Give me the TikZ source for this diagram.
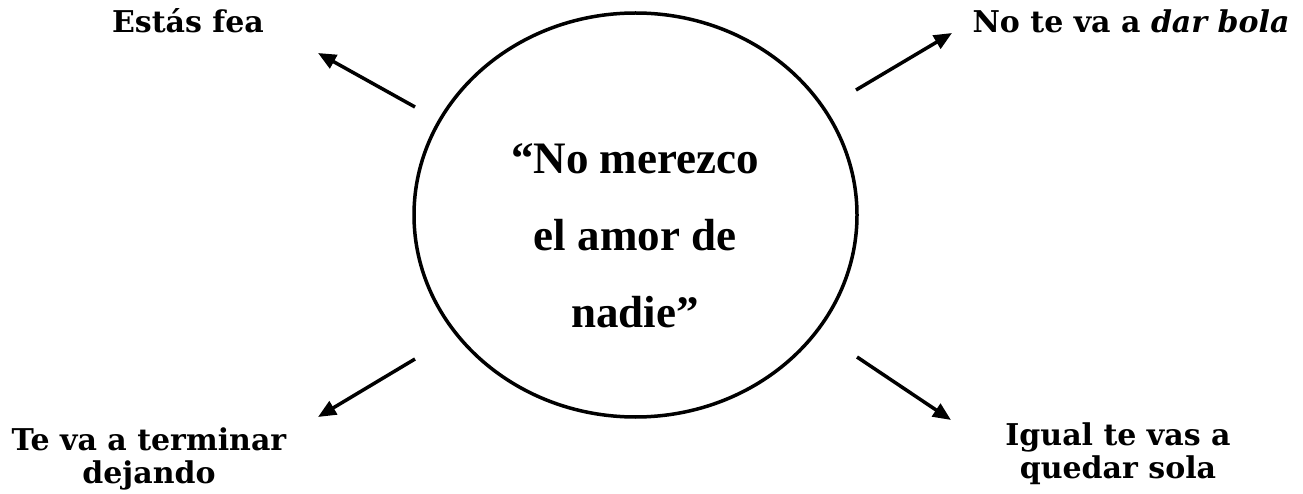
\documentclass[tikz,border=0pt]{standalone}
\usepackage{fontspec}
\setmainfont{Liberation Serif}
\newfontfamily\outerfont{DejaVu Serif}
\usetikzlibrary{arrows.meta,shapes.geometric}
\tikzset{
  outertext/.style={font=\outerfont\bfseries\fontsize{30}{33}\selectfont, inner sep=0pt, align=center},
  centertext/.style={font=\bfseries\fontsize{45}{77}\selectfont, inner sep=0pt, align=center},
  arr/.style={line width=3.5pt, -{Triangle[length=18pt,width=15pt]}},
  bubble/.style={draw, line width=3.5pt, ellipse, minimum width=443pt, minimum height=404pt}
}
\begin{document}
\begin{tikzpicture}[x=1pt,y=-1pt]
\useasboundingbox (0,0) rectangle (1303,494);
\node[bubble] (c) at (635.5,215) {};
\node[centertext, anchor=base] (ct) at (635,327) {“No merezco\\el amor de\\nadie”};
\node[outertext, anchor=base] (t1) at (188,33) {Estás fea};
\node[outertext, anchor=base] (t2) at (1131,33) {No te va a \textit{dar bola}};
\node[outertext, anchor=base] (t3) at (149,483) {Te va a terminar\\dejando};
\node[outertext, anchor=base] (t4) at (1118,478) {Igual te vas a\\quedar sola};
\coordinate (s1) at (415,107);
\coordinate (e1) at (318,53);
\coordinate (s2) at (856,90);
\coordinate (e2) at (952,33);
\coordinate (s3) at (415,359);
\coordinate (e3) at (318,417);
\coordinate (s4) at (857,357);
\coordinate (e4) at (951,420);
\draw[arr] (s1) -- (e1);
\draw[arr] (s2) -- (e2);
\draw[arr] (s3) -- (e3);
\draw[arr] (s4) -- (e4);
\end{tikzpicture}
\end{document}
